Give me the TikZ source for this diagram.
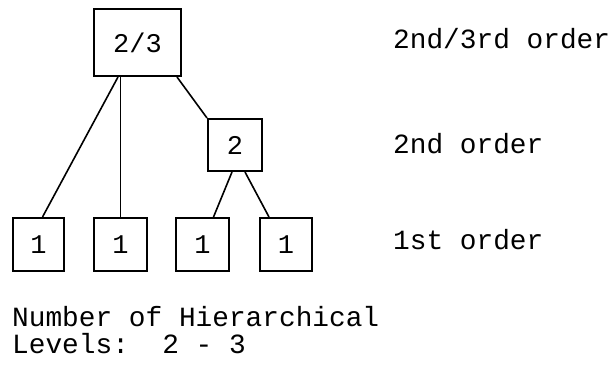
\documentclass[tikz,border=0pt]{standalone}
\usepackage{fontspec}
\setmonofont{Liberation Mono}
\begin{document}
\begin{tikzpicture}[x=1pt,y=-1pt,
  box/.style={draw, line width=2pt, inner sep=0pt, font=\ttfamily\fontsize{27}{27}\selectfont},
  leaf/.style={box, minimum width=51pt, minimum height=53pt},
  lbl/.style={anchor=base west, inner sep=0pt, font=\ttfamily\fontsize{27.8}{27.8}\selectfont},
  conn/.style={line width=1.6pt}]
\useasboundingbox (0,0) rectangle (610,365);
\node[box, minimum width=87pt, minimum height=67pt] (t) at (137.5,42.5) {2/3};
\node[box, minimum width=54pt, minimum height=52pt] (m) at (235,145) {2};
\node[leaf] (b1) at (38.5,244.5) {1};
\node[leaf, minimum width=53pt] (b2) at (120.5,244.5) {1};
\node[leaf, minimum width=53pt] (b3) at (202.5,244.5) {1};
\node[leaf, minimum width=52pt] (b4) at (286,244.5) {1};
\draw[conn] ([xshift=25pt]t.south west) -- ([xshift=4pt]b1.north);
\draw[conn] (t.south -| b2.north) -- (b2.north);
\draw[conn] ([xshift=-5pt]t.south east) -- (m.north west);
\draw[conn] ([xshift=-3pt]m.south) -- ([xshift=11pt]b3.north);
\draw[conn] ([xshift=10pt]m.south) -- ([xshift=-17pt]b4.north);
\node[lbl] (l1) at (393,48) {2nd/3rd order};
\node[lbl] (l2) at (393,153) {2nd order};
\node[lbl] (l3) at (393,249) {1st order};
\node[lbl] (n1) at (12,326) {Number of Hierarchical};
\node[lbl] (n2) at (12,353) {Levels:\ \ 2 - 3};
\end{tikzpicture}
\end{document}
